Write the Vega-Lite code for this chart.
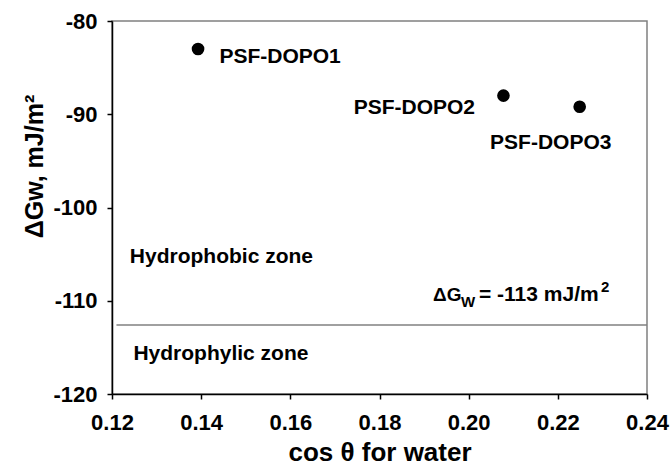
{
  "$schema": "https://vega.github.io/schema/vega-lite/v6.json",
  "autosize": "none",
  "width": 535,
  "height": 373,
  "padding": {"left": 112, "top": 21, "right": 23, "bottom": 71},
  "background": "white",
  "config": {
    "font": "Liberation Sans",
    "view": {"stroke": "#808080", "strokeWidth": 1.5},
    "axis": {
      "domainColor": "#000000",
      "domainWidth": 1.5,
      "tickColor": "#000000",
      "tickWidth": 1.5,
      "tickSize": 5,
      "grid": false,
      "labelFont": "Liberation Sans",
      "labelFontWeight": "bold",
      "labelFontSize": 22,
      "labelColor": "#000000",
      "titleFont": "Liberation Sans",
      "titleFontWeight": "bold",
      "titleFontSize": 25,
      "titleColor": "#000000"
    },
    "text": {"font": "Liberation Sans", "fontWeight": "bold", "fontSize": 21, "color": "#000000", "align": "left"}
  },
  "layer": [
    {
      "data": {"values": [{"y": -112.6, "x1": 0.121, "x2": 0.24}]},
      "mark": {"type": "rule", "color": "#808080", "strokeWidth": 1.5},
      "encoding": {
        "y": {"field": "y", "type": "quantitative", "scale": {"domain": [-120, -80]}},
        "x": {"field": "x1", "type": "quantitative", "scale": {"domain": [0.12, 0.24]}},
        "x2": {"field": "x2"}
      }
    },
    {
      "data": {"values": [
        {"cos": 0.1393, "dg": -83.0, "name": "PSF-DOPO1"},
        {"cos": 0.2078, "dg": -88.0, "name": "PSF-DOPO2"},
        {"cos": 0.2249, "dg": -89.2, "name": "PSF-DOPO3"}
      ]},
      "mark": {"type": "circle", "size": 160, "color": "#000000", "opacity": 1},
      "encoding": {
        "x": {
          "field": "cos", "type": "quantitative",
          "scale": {"domain": [0.12, 0.24], "nice": false, "zero": false},
          "axis": {"values": [0.12, 0.14, 0.16, 0.18, 0.2, 0.22, 0.24], "format": ".2f", "title": "cos θ for water", "titleFontSize": 26, "labelPadding": 13, "titlePadding": 6, "labelFlush": false}
        },
        "y": {
          "field": "dg", "type": "quantitative",
          "scale": {"domain": [-120, -80], "nice": false, "zero": false},
          "axis": {"values": [-120, -110, -100, -90, -80], "labelExpr": "'' + datum.value", "title": "ΔGw, mJ/m²", "labelPadding": 10, "titlePadding": 5, "titleY": 145}
        }
      }
    },
    {
      "data": {"values": [
        {"x": 0.1441, "y": -83.86, "t": "PSF-DOPO1"},
        {"x": 0.1742, "y": -89.35, "t": "PSF-DOPO2"},
        {"x": 0.2048, "y": -93.1, "t": "PSF-DOPO3"},
        {"x": 0.1240, "y": -105.3, "t": "Hydrophobic zone"},
        {"x": 0.1248, "y": -115.7, "t": "Hydrophylic zone"}
      ]},
      "mark": {"type": "text", "baseline": "middle"},
      "encoding": {
        "x": {"field": "x", "type": "quantitative"},
        "y": {"field": "y", "type": "quantitative"},
        "text": {"field": "t"}
      }
    },
    {
      "data": {"values": [{"x": 0.192, "y": -110.03, "t": "ΔG"}]},
      "mark": {"type": "text", "baseline": "alphabetic", "fontSize": 19},
      "encoding": {"x": {"field": "x", "type": "quantitative"}, "y": {"field": "y", "type": "quantitative"}, "text": {"field": "t"}}
    },
    {
      "data": {"values": [{"x": 0.192, "y": -110.03, "t": "W"}]},
      "mark": {"type": "text", "baseline": "alphabetic", "fontSize": 15, "dx": 28, "dy": 6},
      "encoding": {"x": {"field": "x", "type": "quantitative"}, "y": {"field": "y", "type": "quantitative"}, "text": {"field": "t"}}
    },
    {
      "data": {"values": [{"x": 0.192, "y": -110.03, "t": "= -113 mJ/m"}]},
      "mark": {"type": "text", "baseline": "alphabetic", "dx": 46},
      "encoding": {"x": {"field": "x", "type": "quantitative"}, "y": {"field": "y", "type": "quantitative"}, "text": {"field": "t"}}
    },
    {
      "data": {"values": [{"x": 0.192, "y": -110.03, "t": "2"}]},
      "mark": {"type": "text", "baseline": "alphabetic", "fontSize": 15, "dx": 168, "dy": -9},
      "encoding": {"x": {"field": "x", "type": "quantitative"}, "y": {"field": "y", "type": "quantitative"}, "text": {"field": "t"}}
    }
  ]
}
